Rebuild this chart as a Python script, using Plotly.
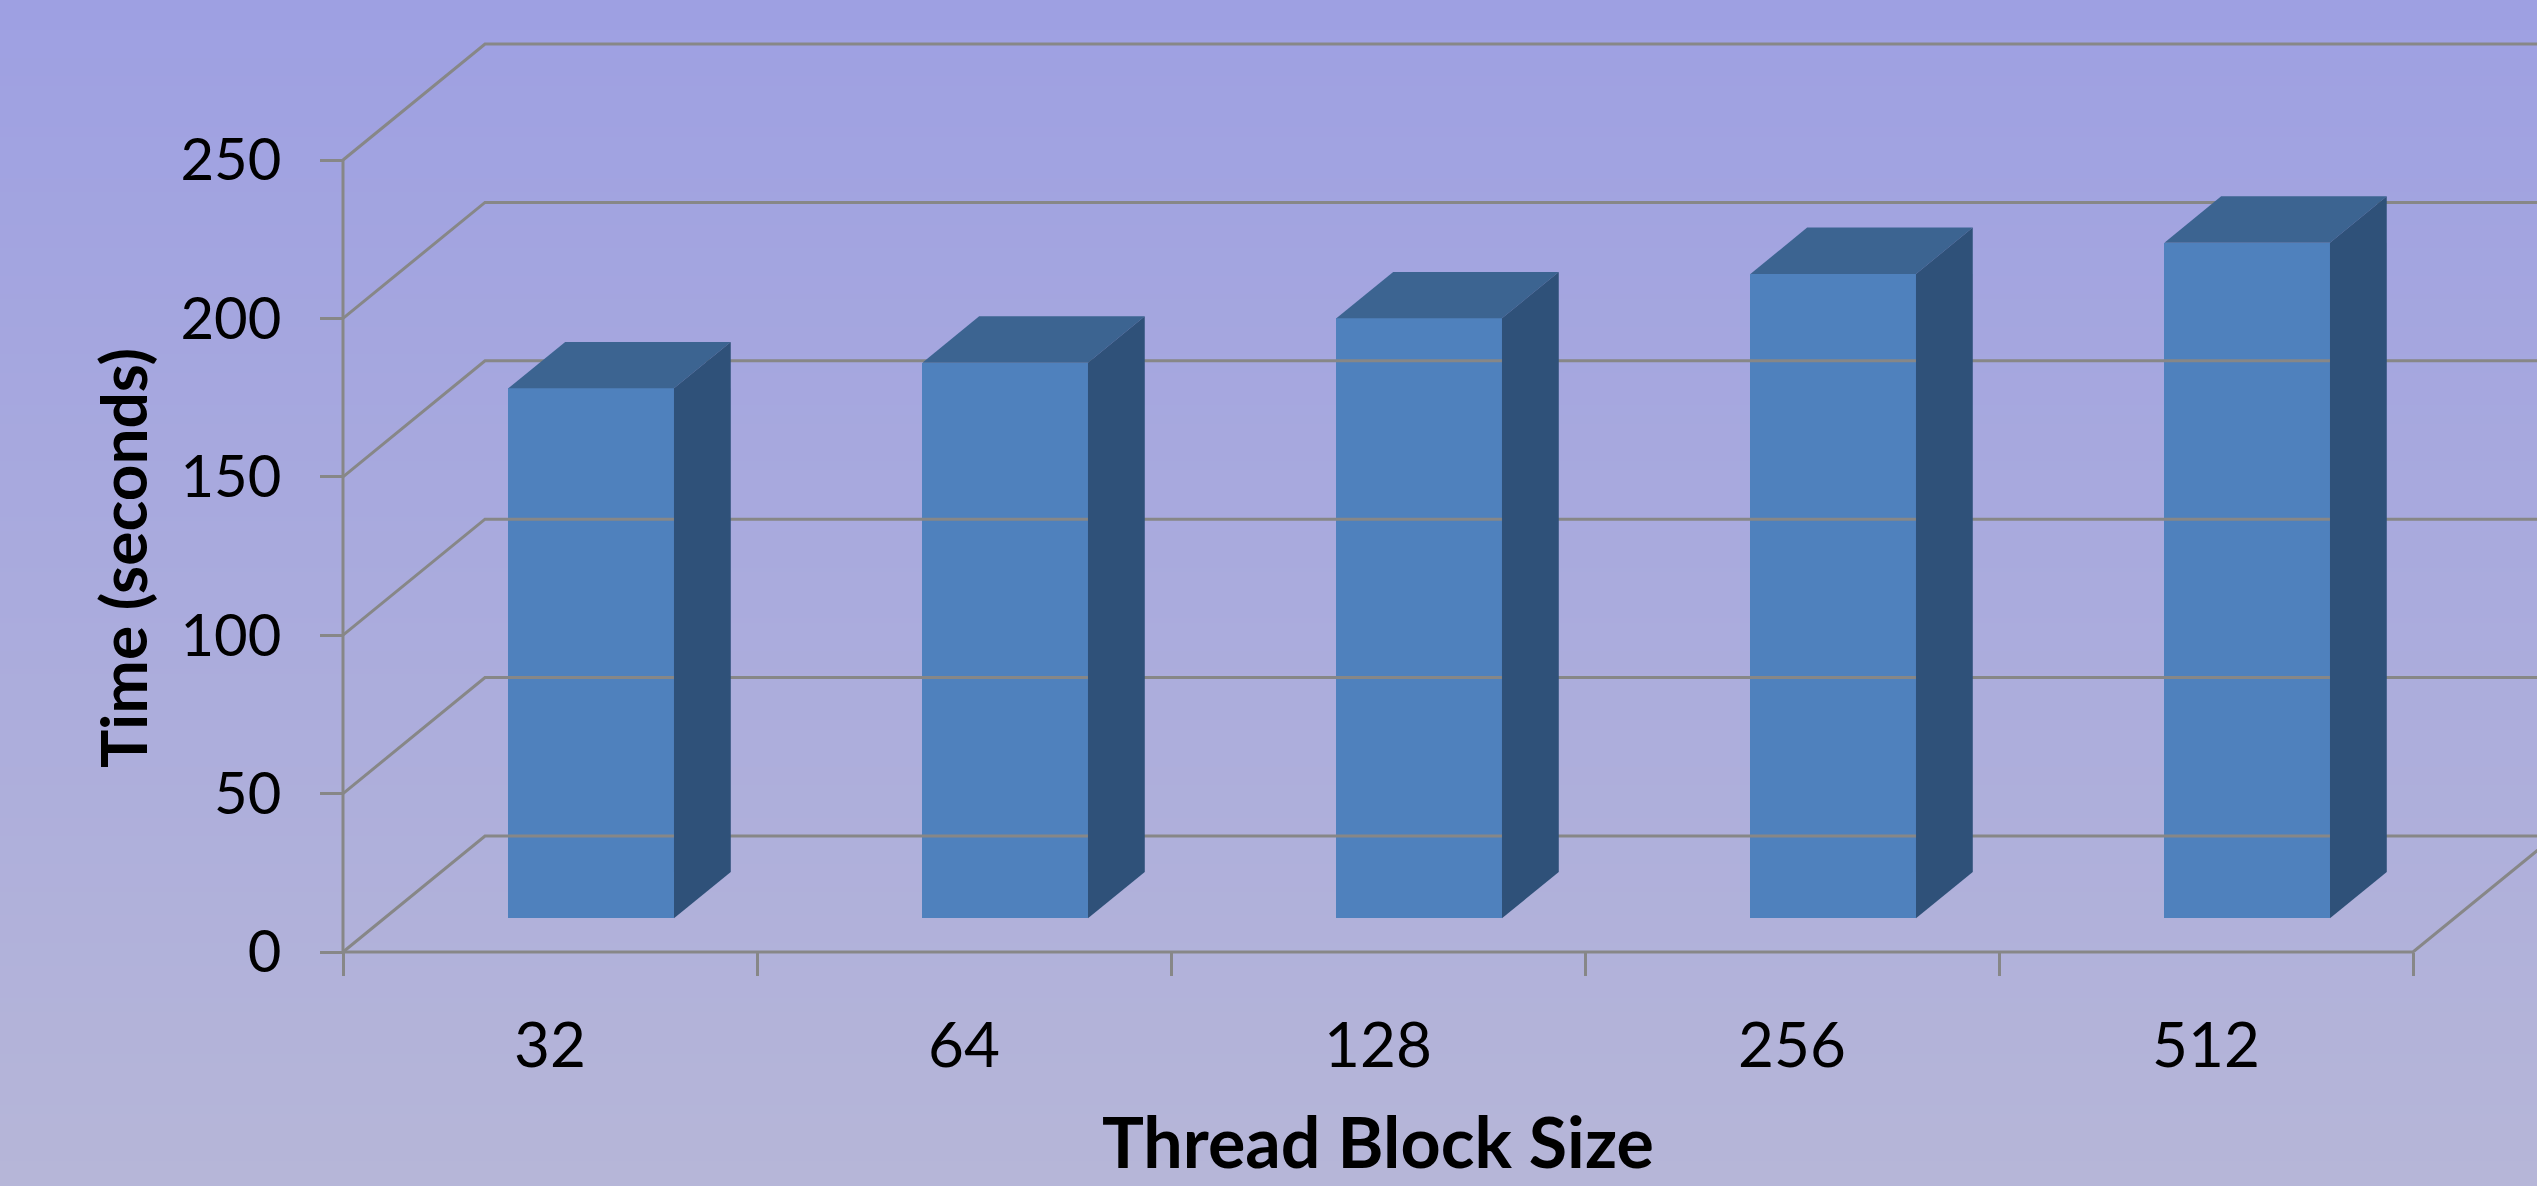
import base64
import struct
import zlib

import plotly.graph_objects as go

# ---------------- data ----------------
block_sizes = ["32", "64", "128", "256", "512"]
times = [167.3, 175.4, 189.4, 203.4, 213.3]
y_tick_values = [0, 50, 100, 150, 200, 250]
y_tick_labels = ["0", "50", "100", "150", "200", "250"]
x_title = "Thread Block Size"
y_title = "Time (seconds)"

# ---------------- layout constants ----------------
W, H = 2537, 1186
X0_PX, STEP_PX = 343.0, 414.0          # front-left corner of floor, category width
Y0_PX, UNIT_PX = 952.0, 3.168          # y pixel of value 0 (front), px per value unit
DEPTH_DX = 142.0 / STEP_PX             # oblique depth offset (category units)
DEPTH_DY = 116.0 / UNIT_PX             # oblique depth offset (value units)
BAR_W = 0.40                           # bar width in category units
BAR_F0 = 0.29                          # depth position of bar front face (0..1)
BAR_D = 0.40                           # bar depth (fraction of full depth)

x_range = [-0.5 - X0_PX / STEP_PX, -0.5 + (W - X0_PX) / STEP_PX]
y_range = [(Y0_PX - H) / UNIT_PX, Y0_PX / UNIT_PX]

GRID = "#878787"
FRONT = "#4F81BD"
TOP = "#3C6491"
SIDE = "#2F5179"
FONT = "Lato, sans-serif"
n = len(block_sizes)
y_max = y_tick_values[-1]


def gradient_png(top, bottom, h=256, w=4):
    raw = b""
    for r in range(h):
        t = r / (h - 1)
        c = bytes(int(round(top[k] + (bottom[k] - top[k]) * t)) for k in range(3))
        raw += b"\x00" + c * w

    def chunk(tag, data):
        return (struct.pack(">I", len(data)) + tag + data
                + struct.pack(">I", zlib.crc32(tag + data) & 0xFFFFFFFF))

    png = b"\x89PNG\r\n\x1a\n"
    png += chunk(b"IHDR", struct.pack(">IIBBBBB", w, h, 8, 2, 0, 0, 0))
    png += chunk(b"IDAT", zlib.compress(raw, 9))
    png += chunk(b"IEND", b"")
    return "data:image/png;base64," + base64.b64encode(png).decode()


fig = go.Figure()

# ---- walls / gridlines (left wall diagonals + back wall horizontals) ----
left = -0.5
right = left + n
gx, gy = [], []
for v in y_tick_values:
    gx += [left, left + DEPTH_DX, right + DEPTH_DX, None]
    gy += [v, v + DEPTH_DY, v + DEPTH_DY, None]
# vertical axis line on the front-left edge
gx += [left, left, None]
gy += [0, y_max, None]
# floor front edge and right edge
gx += [left, right, right + DEPTH_DX, None]
gy += [0, 0, DEPTH_DY, None]
fig.add_trace(go.Scatter(x=gx, y=gy, mode="lines",
                         line=dict(color=GRID, width=3),
                         hoverinfo="skip", showlegend=False))

# ---- bars: front faces ----
xc = [i + BAR_F0 * DEPTH_DX for i in range(n)]
base = BAR_F0 * DEPTH_DY
fig.add_trace(go.Bar(x=xc, y=times, base=[base] * n, width=BAR_W,
                     marker=dict(color=FRONT, line=dict(width=0)),
                     showlegend=False, hoverinfo="skip"))

# ---- bars: top and side faces ----
ddx, ddy = BAR_D * DEPTH_DX, BAR_D * DEPTH_DY
for i, v in enumerate(times):
    xl, xr = xc[i] - BAR_W / 2, xc[i] + BAR_W / 2
    yt = base + v
    fig.add_trace(go.Scatter(
        x=[xl, xr, xr + ddx, xl + ddx, xl],
        y=[yt, yt, yt + ddy, yt + ddy, yt],
        mode="lines", fill="toself", fillcolor=TOP,
        line=dict(width=0, color=TOP), hoverinfo="skip", showlegend=False))
    fig.add_trace(go.Scatter(
        x=[xr, xr + ddx, xr + ddx, xr, xr],
        y=[base, base + ddy, yt + ddy, yt, base],
        mode="lines", fill="toself", fillcolor=SIDE,
        line=dict(width=0, color=SIDE), hoverinfo="skip", showlegend=False))

fig.update_layout(
    width=W, height=H,
    margin=dict(l=0, r=0, t=0, b=0, pad=0),
    paper_bgcolor="rgba(0,0,0,0)",
    plot_bgcolor="rgba(0,0,0,0)",
    showlegend=False,
    bargap=0,
    images=[dict(source=gradient_png((158, 160, 226), (182, 182, 216)),
                 xref="paper", yref="paper", x=0, y=1, sizex=1, sizey=1,
                 sizing="stretch", layer="below", xanchor="left", yanchor="top")],
    xaxis=dict(
        range=x_range, showgrid=False, zeroline=False, showline=False,
        anchor="free", position=(H - Y0_PX) / H,
        tickmode="array", tickvals=list(range(n)), ticktext=block_sizes,
        ticks="", ticklabelstandoff=52,
        tickfont=dict(family=FONT, size=62, color="#000000"),
        minor=dict(tickmode="array", tickvals=[i - 0.5 for i in range(n + 1)],
                   ticks="outside", ticklen=23, tickwidth=3, tickcolor=GRID,
                   showgrid=False),
        fixedrange=True,
    ),
    yaxis=dict(
        range=y_range, showgrid=False, zeroline=False, showline=False,
        anchor="free", position=X0_PX / W,
        tickmode="array", tickvals=y_tick_values, ticktext=y_tick_labels,
        ticks="outside", ticklen=23, tickwidth=3, tickcolor=GRID,
        ticklabelstandoff=27,
        tickfont=dict(family=FONT, size=58, color="#000000"),
        fixedrange=True,
    ),
    annotations=[
        dict(text="<b>%s</b>" % y_title, xref="paper", yref="paper",
             x=122 / W, y=1 - 558 / H, xanchor="center", yanchor="middle",
             textangle=-90, showarrow=False,
             font=dict(family=FONT, size=64, color="#000000")),
        dict(text="<b>%s</b>" % x_title, xref="paper", yref="paper",
             x=(X0_PX + 2.5 * STEP_PX) / W, y=1 - 1141 / H,
             xanchor="center", yanchor="middle", showarrow=False,
             font=dict(family=FONT, size=70, color="#000000")),
    ],
)

fig.write_html("out.html")
